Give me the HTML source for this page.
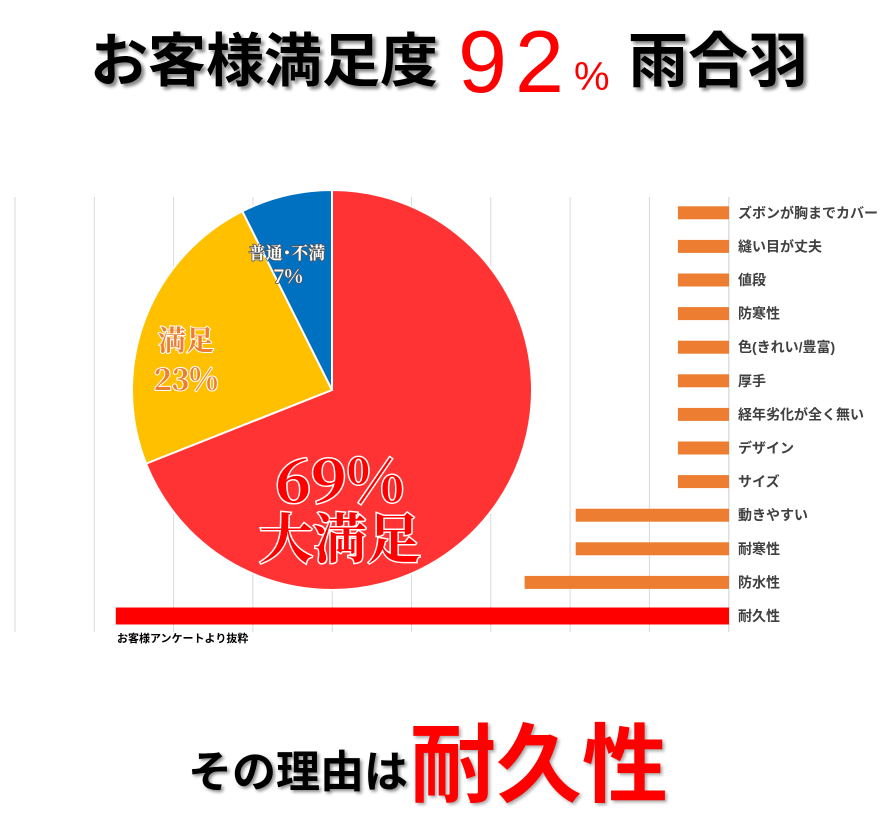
<!DOCTYPE html>
<html><head><meta charset="utf-8">
<style>
body{margin:0;background:#fff;width:892px;height:811px;overflow:hidden;position:relative;font-family:"Liberation Sans","Noto Sans CJK JP",sans-serif}
.t{position:absolute;white-space:nowrap;font-weight:bold}
</style></head><body>
<div class="t" style="left:90px;top:22px;font-size:58px;line-height:80px;color:#000;text-shadow:3px 3px 3px #888">お客様満足度</div>
<div class="t" style="left:458px;top:14px;font-size:88px;line-height:96px;color:#f00;font-weight:normal;letter-spacing:8px">92</div>
<div class="t" style="left:574px;top:52px;font-size:40px;line-height:50px;color:#f00;font-weight:normal">%</div>
<div class="t" style="left:628px;top:22px;font-size:60px;line-height:80px;color:#000;text-shadow:3px 3px 3px #888">雨合羽</div>

<svg id="chart" width="892" height="811" style="position:absolute;left:0;top:0"></svg>

<div class="t" style="left:117px;top:630px;font-size:11px;color:#000">お客様アンケートより抜粋</div>

<div class="t" style="left:188px;top:728px;font-size:44px;line-height:90px;color:#000;text-shadow:2px 2px 3px #888">その理由は</div>
<div class="t" style="left:410px;top:716px;font-size:86px;line-height:100px;color:#f00;text-shadow:2px 2px 3px #aaa">耐久性</div>

<script>
const pieLabels=["大満足","満足","普通・不満"];
const pieValues=[69,23.6,7.4];
const piePctText=["69%","23%","7%"];
const pieColors=["#ff3333","#ffc000","#0070c0"];
const barCats=["ズボンが胸までカバー","縫い目が丈夫","値段","防寒性","色(きれい/豊富)","厚手","経年劣化が全く無い","デザイン","サイズ","動きやすい","耐寒性","防水性","耐久性"];
const barVals=[1,1,1,1,1,1,1,1,1,3,3,4,12];

const NS="http://www.w3.org/2000/svg";
const svg=document.getElementById('chart');
function mk(tag,attrs){const e=document.createElementNS(NS,tag);for(const k in attrs)e.setAttribute(k,attrs[k]);svg.appendChild(e);return e;}

for(let i=0;i<10;i++){
  const gx=15+i*79.3;
  const g=mk('line',{x1:gx,y1:197,x2:gx,y2:632,stroke:'#d9d9d9','stroke-width':1});
  
  
}
const cx=332,cy=390,r=200;
const total=pieValues.reduce((a,b)=>a+b,0);
let ang=0;
pieValues.forEach((v,i)=>{
  const a0=ang,a1=ang+v/total*Math.PI*2;ang=a1;
  const x0=cx+r*Math.sin(a0),y0=cy-r*Math.cos(a0),x1=cx+r*Math.sin(a1),y1=cy-r*Math.cos(a1);
  const large=(a1-a0)>Math.PI?1:0;
  const p=mk('path',{d:`M${cx},${cy}L${x0},${y0}A${r},${r} 0 ${large} 1 ${x1},${y1}Z`,fill:pieColors[i],stroke:'#fff','stroke-width':2});
  
  
});
const ax=mk('line',{x1:729,y1:197,x2:729,y2:632,stroke:'#d9d9d9','stroke-width':1});


const x0=729,unit=51.1,rowTop=196,rowH=33.6;
barCats.forEach((c,i)=>{
  const last=i===barCats.length-1;
  const h=last?17:13;
  const yc=rowTop+rowH*(i+0.5);
  const w=barVals[i]*unit;
  const b=mk('rect',{x:x0-w,y:yc-h/2,width:w,height:h,fill:last?'#ff0000':'#ed7d31'});
  
  
  const t=mk('text',{x:738,y:yc+5,'font-size':14,'font-weight':'bold',fill:'#404040','font-family':'"Liberation Sans","Noto Sans CJK JP",sans-serif'});
  t.textContent=c;
  
  
});
function lbl(txt,x,y,size,fill,stroke,sw,name){
  const t=mk('text',{x:x,y:y,'font-size':size,'text-anchor':'middle',fill:fill,stroke:stroke,'stroke-width':sw,'paint-order':'stroke','font-weight':'bold','font-family':'"Noto Serif CJK SC","Liberation Serif",serif'});
  t.textContent=txt;
  
  
}
lbl("普通･不満",287,259,17,'#fff','#555',1.5,'label-normal');
lbl(piePctText[2],288,283,19,'#fff','#555',1.5,'label-normal-pct');
lbl("満足",186,350,28,'#ed7d31','#fff',2,'label-satisfied');
lbl(piePctText[1],186,390,30,'#ed7d31','#fff',2,'label-satisfied-pct');
lbl(piePctText[0],340,502,60,'#ff0000','#fff',3,'label-very-pct');
lbl("大満足",340,558,54,'#ff0000','#fff',3,'label-very');
</script>
</body></html>
